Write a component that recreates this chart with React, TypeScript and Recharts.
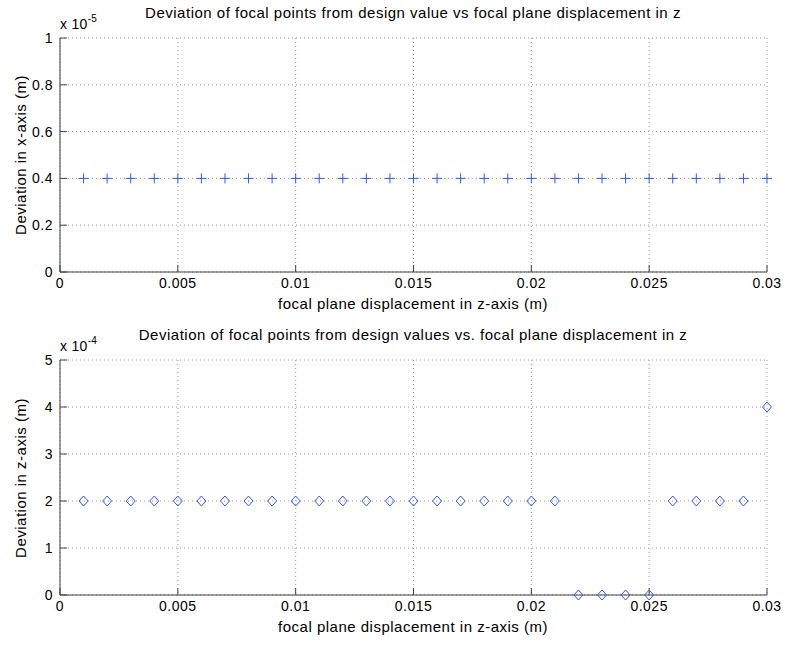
import { ScatterChart, Scatter, XAxis, YAxis, CartesianGrid } from "recharts";

// focal plane displacement in z (m)
const zPositions = [
  0.001, 0.002, 0.003, 0.004, 0.005, 0.006, 0.007, 0.008, 0.009, 0.01,
  0.011, 0.012, 0.013, 0.014, 0.015, 0.016, 0.017, 0.018, 0.019, 0.02,
  0.021, 0.022, 0.023, 0.024, 0.025, 0.026, 0.027, 0.028, 0.029, 0.03,
];

// deviation in x-axis (m)
const xDeviation = [
  4e-6, 4e-6, 4e-6, 4e-6, 4e-6, 4e-6, 4e-6, 4e-6, 4e-6, 4e-6,
  4e-6, 4e-6, 4e-6, 4e-6, 4e-6, 4e-6, 4e-6, 4e-6, 4e-6, 4e-6,
  4e-6, 4e-6, 4e-6, 4e-6, 4e-6, 4e-6, 4e-6, 4e-6, 4e-6, 4e-6,
];

// deviation in z-axis (m)
const zDeviation = [
  2e-4, 2e-4, 2e-4, 2e-4, 2e-4, 2e-4, 2e-4, 2e-4, 2e-4, 2e-4,
  2e-4, 2e-4, 2e-4, 2e-4, 2e-4, 2e-4, 2e-4, 2e-4, 2e-4, 2e-4,
  2e-4, 0, 0, 0, 0, 2e-4, 2e-4, 2e-4, 2e-4, 4e-4,
];

const xTicks = [0, 0.005, 0.01, 0.015, 0.02, 0.025, 0.03];
const topYTicks = [0, 2e-6, 4e-6, 6e-6, 8e-6, 1e-5];
const bottomYTicks = [0, 1e-4, 2e-4, 3e-4, 4e-4, 5e-4];

const FONT = "'Liberation Sans', Arial, Helvetica, sans-serif";
const BLUE = "#3355ff";
const AXIS = "#404040";

const PlusMarker = (props: any) => {
  const { cx, cy } = props;
  if (cx == null || cy == null) return null;
  return (
    <g stroke={BLUE} strokeWidth={1}>
      <line x1={cx - 5} y1={cy} x2={cx + 5} y2={cy} />
      <line x1={cx} y1={cy - 5} x2={cx} y2={cy + 5} />
    </g>
  );
};

const DiamondMarker = (props: any) => {
  const { cx, cy } = props;
  if (cx == null || cy == null) return null;
  return (
    <path
      d={`M${cx},${cy - 5}L${cx + 4.5},${cy}L${cx},${cy + 5}L${cx - 4.5},${cy}Z`}
      fill="none"
      stroke={BLUE}
      strokeWidth={1}
    />
  );
};

const tickStyle = { fill: "#000", fontSize: 14, fontFamily: FONT, letterSpacing: 0.5 };

const labelStyle: any = {
  position: "absolute",
  whiteSpace: "nowrap",
  fontSize: 15,
  letterSpacing: 0.5,
  fontFamily: FONT,
  color: "#000",
};

function Panel({
  top,
  height,
  marginTop,
  marginBottom,
  values,
  yTicks,
  scale,
  exponent,
  title,
  ylabel,
  marker,
}: any) {
  const data = zPositions.map((z, i) => ({ z, dev: values[i] }));
  const plotTop = top + marginTop;
  const plotBottom = top + height - marginBottom - 30;
  return (
    <div style={{ position: "absolute", left: 0, top, width: 786, height }}>
      <ScatterChart
        width={786}
        height={height}
        margin={{ top: marginTop, right: 19, left: 10, bottom: marginBottom }}
      >
        <CartesianGrid stroke="#999" strokeDasharray="1 3" />
        <XAxis
          type="number"
          dataKey="z"
          domain={[0, 0.03]}
          ticks={xTicks}
          height={30}
          tickSize={-7}
          tickMargin={13}
          stroke={AXIS}
          tick={tickStyle}
          tickFormatter={(v: number) => String(+v.toFixed(3))}
        />
        <XAxis
          xAxisId="top"
          orientation="top"
          type="number"
          domain={[0, 0.03]}
          ticks={xTicks}
          height={0}
          tickSize={-7}
          stroke={AXIS}
          tickFormatter={() => ""}
        />
        <YAxis
          type="number"
          dataKey="dev"
          domain={[0, yTicks[yTicks.length - 1]]}
          ticks={yTicks}
          width={50}
          tickSize={-7}
          tickMargin={14}
          stroke={AXIS}
          tick={tickStyle}
          tickFormatter={(v: number) => String(+(v / scale).toFixed(1))}
        />
        <YAxis
          yAxisId="right"
          orientation="right"
          type="number"
          domain={[0, yTicks[yTicks.length - 1]]}
          ticks={yTicks}
          width={0}
          tickSize={-7}
          stroke={AXIS}
          tickFormatter={() => ""}
        />
        <Scatter data={data} shape={marker} isAnimationActive={false} />
      </ScatterChart>
      <div
        style={{
          ...labelStyle,
          left: 413,
          top: marginTop - 26,
          transform: "translate(-50%, -50%)",
        }}
      >
        {title}
      </div>
      <div
        style={{
          ...labelStyle,
          left: 60,
          top: marginTop - 21,
          fontSize: 14,
          letterSpacing: 0.3,
          lineHeight: "14px",
        }}
      >
        x 10
        <span style={{ fontSize: 10, position: "relative", top: -7 }}>{exponent}</span>
      </div>
      <div
        style={{
          ...labelStyle,
          left: 20,
          top: (plotTop + plotBottom) / 2 - top,
          transform: "translate(-50%, -50%) rotate(-90deg)",
        }}
      >
        {ylabel}
      </div>
      <div
        style={{
          ...labelStyle,
          left: 413,
          top: plotBottom - top + 31,
          transform: "translate(-50%, -50%)",
        }}
      >
        focal plane displacement in z-axis (m)
      </div>
    </div>
  );
}

export default function App() {
  return (
    <div
      style={{
        position: "absolute",
        left: 0,
        top: 0,
        width: 786,
        height: 645,
        background: "#fff",
        overflow: "hidden",
      }}
    >
      <Panel
        top={0}
        height={320}
        marginTop={38}
        marginBottom={18}
        values={xDeviation}
        yTicks={topYTicks}
        scale={1e-5}
        exponent="-5"
        title="Deviation of focal points from design value vs focal plane displacement in z"
        ylabel="Deviation in x-axis (m)"
        marker={PlusMarker}
      />
      <Panel
        top={320}
        height={325}
        marginTop={40}
        marginBottom={20}
        values={zDeviation}
        yTicks={bottomYTicks}
        scale={1e-4}
        exponent="-4"
        title="Deviation of focal points from design values vs. focal plane displacement in z"
        ylabel="Deviation in z-axis (m)"
        marker={DiamondMarker}
      />
    </div>
  );
}
